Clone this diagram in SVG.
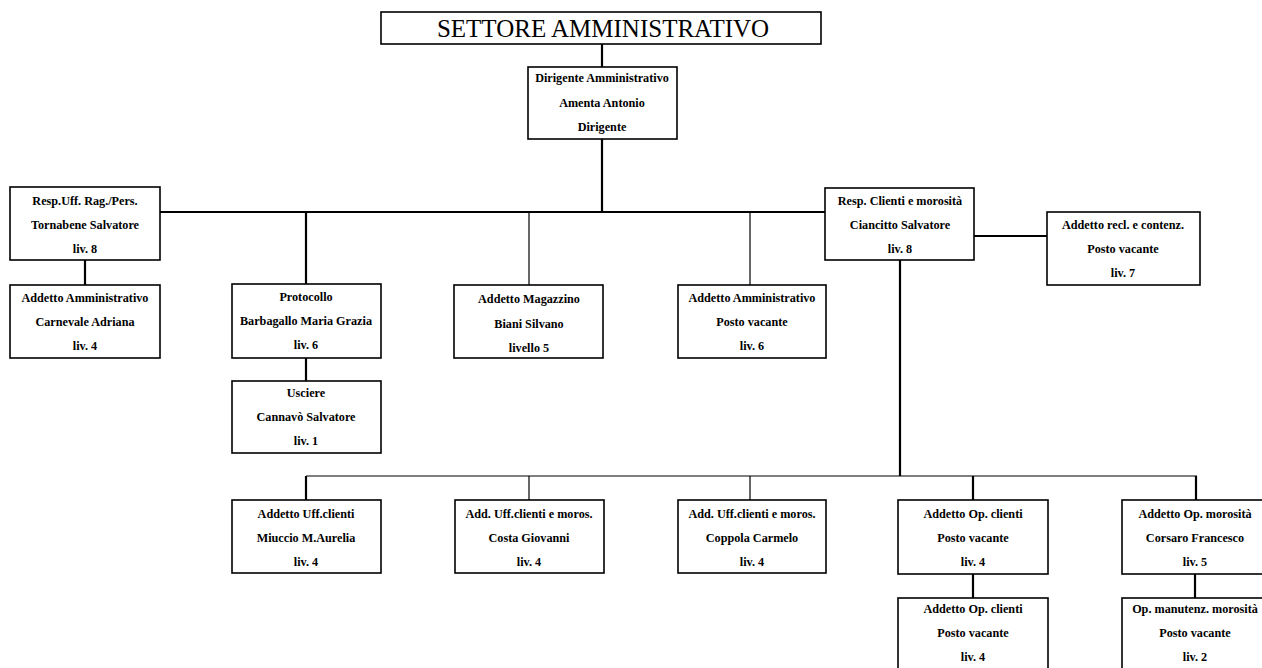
<svg xmlns="http://www.w3.org/2000/svg" width="1262" height="668" viewBox="0 0 1262 668">
<style>
.box{fill:#fff;stroke:#000;stroke-width:1.6}
.t{font-family:"Liberation Serif",serif;font-weight:bold;font-size:12.2px;fill:#000;text-anchor:middle}
.title{font-family:"Liberation Serif",serif;font-size:25px;fill:#000;text-anchor:middle}
.thick{stroke:#000;stroke-width:2.2;fill:none}
.thin{stroke:#000;stroke-width:1.2;fill:none}
</style>
<rect width="1262" height="668" fill="#fff"/>
<g id="connectors">
<line class="thick" x1="602" y1="44" x2="602" y2="67"/>
<line class="thick" x1="602" y1="139" x2="602" y2="212"/>
<line class="thick" x1="160" y1="212" x2="825" y2="212"/>
<line class="thick" x1="85" y1="260" x2="85" y2="285"/>
<line class="thick" x1="306" y1="212" x2="306" y2="284"/>
<line class="thick" x1="306" y1="358" x2="306" y2="381"/>
<line class="thin" x1="529" y1="212" x2="529" y2="285"/>
<line class="thin" x1="750" y1="212" x2="750" y2="285"/>
<line class="thick" x1="974" y1="236" x2="1047" y2="236"/>
<line class="thick" x1="900" y1="260" x2="900" y2="476"/>
<line class="thin" x1="306" y1="476" x2="1197" y2="476"/>
<line class="thick" x1="306" y1="476" x2="306" y2="500"/>
<line class="thin" x1="529" y1="476" x2="529" y2="500"/>
<line class="thin" x1="750" y1="476" x2="750" y2="500"/>
<line class="thick" x1="973" y1="476" x2="973" y2="500"/>
<line class="thick" x1="1196" y1="476" x2="1196" y2="500"/>
<line class="thick" x1="973" y1="574" x2="973" y2="598"/>
<line class="thick" x1="1195" y1="574" x2="1195" y2="598"/>
</g>
<g id="title"><rect class="box" x="381" y="12" width="440" height="32"/><text class="title" x="603" y="37">SETTORE AMMINISTRATIVO</text></g>
<g id="dirigente"><rect class="box" x="528" y="67" width="149" height="72"/><text class="t" x="602" y="82">Dirigente Amministrativo</text><text class="t" x="602" y="107">Amenta Antonio</text><text class="t" x="602" y="131">Dirigente</text></g>
<g id="resp-uff"><rect class="box" x="10" y="187" width="150" height="73"/><text class="t" x="85" y="205">Resp.Uff. Rag./Pers.</text><text class="t" x="85" y="229">Tornabene Salvatore</text><text class="t" x="85" y="253">liv. 8</text></g>
<g id="add-amm1"><rect class="box" x="10" y="285" width="150" height="73"/><text class="t" x="85" y="302">Addetto Amministrativo</text><text class="t" x="85" y="326">Carnevale Adriana</text><text class="t" x="85" y="350">liv. 4</text></g>
<g id="protocollo"><rect class="box" x="232" y="284" width="149" height="74"/><text class="t" x="306" y="301">Protocollo</text><text class="t" x="306" y="325">Barbagallo Maria Grazia</text><text class="t" x="306" y="349">liv. 6</text></g>
<g id="usciere"><rect class="box" x="232" y="381" width="149" height="72"/><text class="t" x="306" y="397">Usciere</text><text class="t" x="306" y="421">Cannavò Salvatore</text><text class="t" x="306" y="445">liv. 1</text></g>
<g id="magazzino"><rect class="box" x="454" y="285" width="149" height="73"/><text class="t" x="529" y="303">Addetto Magazzino</text><text class="t" x="529" y="328">Biani Silvano</text><text class="t" x="529" y="352">livello 5</text></g>
<g id="add-amm2"><rect class="box" x="678" y="285" width="148" height="73"/><text class="t" x="752" y="302">Addetto Amministrativo</text><text class="t" x="752" y="326">Posto vacante</text><text class="t" x="752" y="350">liv. 6</text></g>
<g id="resp-clienti"><rect class="box" x="825" y="188" width="149" height="72"/><text class="t" x="900" y="205">Resp. Clienti e morosità</text><text class="t" x="900" y="229">Ciancitto Salvatore</text><text class="t" x="900" y="253">liv. 8</text></g>
<g id="recl"><rect class="box" x="1047" y="212" width="153" height="73"/><text class="t" x="1123" y="229">Addetto recl. e contenz.</text><text class="t" x="1123" y="253">Posto vacante</text><text class="t" x="1123" y="277">liv. 7</text></g>
<g id="miuccio"><rect class="box" x="232" y="500" width="149" height="73"/><text class="t" x="306" y="518">Addetto Uff.clienti</text><text class="t" x="306" y="542">Miuccio M.Aurelia</text><text class="t" x="306" y="566">liv. 4</text></g>
<g id="costa"><rect class="box" x="455" y="500" width="149" height="73"/><text class="t" x="529" y="518">Add. Uff.clienti e moros.</text><text class="t" x="529" y="542">Costa Giovanni</text><text class="t" x="529" y="566">liv. 4</text></g>
<g id="coppola"><rect class="box" x="678" y="500" width="148" height="73"/><text class="t" x="752" y="518">Add. Uff.clienti e moros.</text><text class="t" x="752" y="542">Coppola Carmelo</text><text class="t" x="752" y="566">liv. 4</text></g>
<g id="op-clienti1"><rect class="box" x="898" y="500" width="150" height="74"/><text class="t" x="973" y="518">Addetto Op. clienti</text><text class="t" x="973" y="542">Posto vacante</text><text class="t" x="973" y="566">liv. 4</text></g>
<g id="op-morosita"><rect class="box" x="1122" y="500" width="160" height="74"/><text class="t" x="1195" y="518">Addetto Op. morosità</text><text class="t" x="1195" y="542">Corsaro Francesco</text><text class="t" x="1195" y="566">liv. 5</text></g>
<g id="op-clienti2"><rect class="box" x="898" y="598" width="150" height="74"/><text class="t" x="973" y="613">Addetto Op. clienti</text><text class="t" x="973" y="637">Posto vacante</text><text class="t" x="973" y="661">liv. 4</text></g>
<g id="op-manutenz"><rect class="box" x="1122" y="598" width="160" height="74"/><text class="t" x="1195" y="613">Op. manutenz. morosità</text><text class="t" x="1195" y="637">Posto vacante</text><text class="t" x="1195" y="661">liv. 2</text></g>
</svg>
